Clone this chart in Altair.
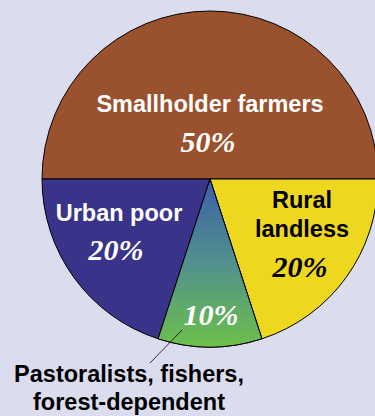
import math
import altair as alt
import pandas as pd

# Data
groups = ["Smallholder farmers", "Rural landless", "Pastoralists, fishers, forest-dependent", "Urban poor"]
shares = [50, 20, 10, 20]
slice_order = [1, 2, 3, 4]
colors = ["#9a512d", "#eed71f", "#5a9a80", "#39338a"]

df = pd.DataFrame({"group": groups, "share": shares, "idx": slice_order})

CX, CY, R = 210, 179, 168
theta_scale = alt.Scale(domain=[0, 100], range=[-math.pi / 2, 3 * math.pi / 2])

base = (
    alt.Chart(df)
    .transform_window(cum="sum(share)", sort=[alt.SortField("idx")], frame=[None, 0])
    .transform_calculate(start="datum.cum - datum.share")
)

arcs = base.mark_arc(radius=R, stroke="black", strokeWidth=1).encode(
    theta=alt.Theta("start:Q", scale=theta_scale),
    theta2="cum:Q",
    fill=alt.Fill("group:N", scale=alt.Scale(domain=groups, range=colors), legend=None),
    x=alt.value(CX),
    y=alt.value(CY),
)

grad = alt.Gradient(
    gradient="linear",
    stops=[
        alt.GradientStop(color="#3a60a8", offset=0),
        alt.GradientStop(color="#52908c", offset=0.5),
        alt.GradientStop(color="#6dc04b", offset=1),
    ],
    x1=0, x2=0, y1=0, y2=1,
)

grad_arc = (
    base.transform_filter(alt.datum.idx == 3)
    .mark_arc(radius=R, stroke="black", strokeWidth=1, fill=grad)
    .encode(
        theta=alt.Theta("start:Q", scale=theta_scale),
        theta2="cum:Q",
        x=alt.value(CX),
        y=alt.value(CY),
    )
)

SANS = "Liberation Sans"
SERIF = "Liberation Serif"


def label(text, x, y, color="white", size=23.5, font=SANS, style="normal", weight="bold"):
    kw = dict(
        text=text, x=x, y=y, align="center", baseline="alphabetic",
        font=font, fontSize=size, fontWeight=weight, fontStyle=style, color=color,
    )
    return alt.Chart(df).transform_filter(alt.datum.idx == 1).mark_text(**kw).encode(
        opacity=alt.value(1)
    )


labels = [
    label("Smallholder farmers", 210, 112),
    label("50%", 208, 152, size=30, font=SERIF, style="italic"),
    label("Urban poor", 119, 221),
    label("20%", 116, 260, size=30, font=SERIF, style="italic"),
    label("Rural", 302, 208, color="black"),
    label("landless", 302, 237, color="black"),
    label("20%", 300, 277, color="black", size=30, font=SERIF, style="italic"),
    label("10%", 211, 325, size=30, font=SERIF, style="italic"),
    label("Pastoralists, fishers,", 129, 382, color="black"),
    label("forest-dependent", 129, 410, color="black"),
]

leader = alt.Chart(df).transform_filter(alt.datum.idx == 3).mark_rule(
    color="black", strokeWidth=0.8
).encode(x=alt.value(182), y=alt.value(330), x2=alt.value(150), y2=alt.value(363))

chart = (
    alt.layer(arcs, grad_arc, leader, *labels)
    .properties(
        width=375,
        height=416,
        autosize=alt.AutoSizeParams(type="none"),
        padding=0,
        background="#dcdcef",
    )
    .configure_view(stroke=None)
)

chart.save("out.html", embed_options={"renderer": "svg", "actions": False})
